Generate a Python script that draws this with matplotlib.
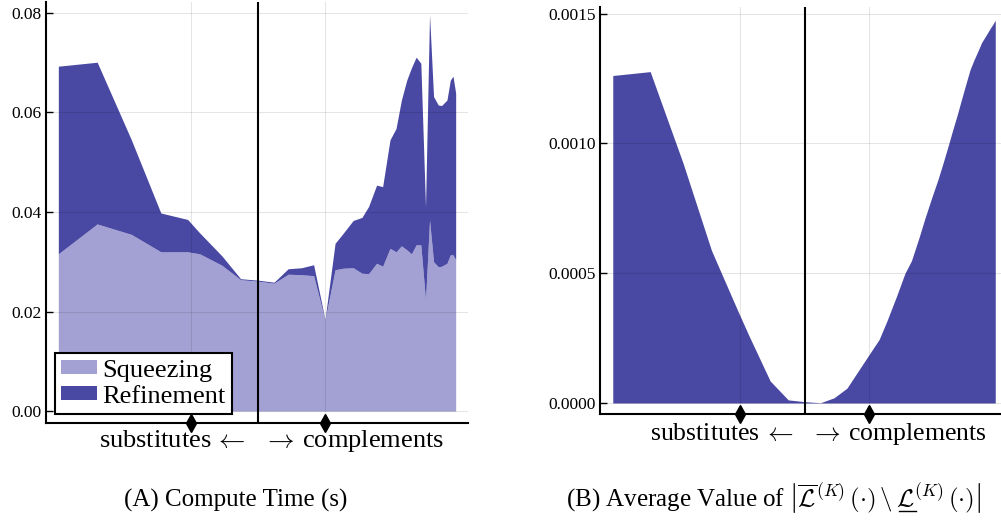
# -*- coding: utf-8 -*-
import matplotlib
matplotlib.use('Agg')
from matplotlib import pyplot as plt
from matplotlib.patches import Patch
import numpy as np

# x positions of the sampled points (same grid in both panels)
x = [-2.98, -2.40, -1.89, -1.45, -1.05, -0.87, -0.54, -0.26, 0.0, 0.24,
     0.45, 0.65, 0.83, 1.0, 1.15, 1.27, 1.42, 1.55, 1.65, 1.77,
     1.86, 1.97, 2.06, 2.14, 2.22, 2.29, 2.36, 2.43, 2.50, 2.56,
     2.62, 2.69, 2.74, 2.82, 2.87, 2.91, 2.95]

# panel A: compute time (s)
squeezing = [0.0316, 0.0376, 0.0355, 0.0320, 0.0320, 0.0316, 0.0293, 0.0264, 0.0261, 0.0257,
             0.0275, 0.0274, 0.0272, 0.0183, 0.0284, 0.0287, 0.0288, 0.0277, 0.0276, 0.0297,
             0.0291, 0.0327, 0.0320, 0.0332, 0.0324, 0.0316, 0.0334, 0.0334, 0.0223, 0.0384,
             0.0300, 0.0290, 0.0291, 0.0297, 0.0314, 0.0314, 0.0304]
refinement = [0.0377, 0.0325, 0.0190, 0.0078, 0.0065, 0.0042, 0.0019, 0.0002, 0.0002, 0.0002,
              0.0011, 0.0014, 0.0022, 0.0001, 0.0053, 0.0070, 0.0095, 0.0112, 0.0135, 0.0157,
              0.0160, 0.0218, 0.0248, 0.0293, 0.0341, 0.0374, 0.0377, 0.0365, 0.0187, 0.0413,
              0.0332, 0.0325, 0.0323, 0.0328, 0.0351, 0.0359, 0.0335]

# panel B: average value of the set difference
avg_value = [0.001262, 0.001277, 0.000924, 0.000588, 0.000360, 0.000260, 0.000085, 0.000012, 0.000005, 0.000001,
             0.000020, 0.000057, 0.000125, 0.000189, 0.000245, 0.000316, 0.000412, 0.000500, 0.000548, 0.000639,
             0.000712, 0.000795, 0.000860, 0.000924, 0.000991, 0.001052, 0.001110, 0.001173, 0.001234, 0.001285,
             0.001322, 0.001361, 0.001390, 0.001422, 0.001443, 0.001458, 0.001475]

yticks_a = [0.00, 0.02, 0.04, 0.06, 0.08]
yticks_b = [0.0000, 0.0005, 0.0010, 0.0015]
series_names = ['Squeezing', 'Refinement']

light = '#a3a1d3'
dark = '#4948a3'

plt.rcParams['font.family'] = ['Liberation Serif', 'DejaVu Serif']
plt.rcParams['mathtext.fontset'] = 'cm'

W, H = 1001, 527


def style_axes(ax, yticks, fmt):
    for s in ['top', 'right']:
        ax.spines[s].set_visible(False)
    for s in ['left', 'bottom']:
        ax.spines[s].set_linewidth(1.5)
    ax.set_yticks(yticks)
    ax.set_yticklabels([fmt % v for v in yticks])
    ax.set_xticks([-1, 1])
    ax.set_xticklabels(['', ''])
    ax.tick_params(axis='y', direction='in', length=5, width=1, labelsize=12.5, pad=3)
    ax.tick_params(axis='x', length=0)
    ax.grid(True, color='black', alpha=0.1, lw=0.8)
    ax.set_axisbelow(False)
    ax.axvline(0, color='black', lw=1.5, zorder=4)
    ax.plot([-1, 1], [0, 0], 'kd', ms=9, transform=ax.get_xaxis_transform(),
            clip_on=False, zorder=6)


fig = plt.figure(figsize=(W / 100, H / 100), dpi=100)

# panel A
ax1 = fig.add_axes([46 / W, 1 - 423 / H, 422 / W, 421 / H])
total = np.array(squeezing) + np.array(refinement)
ax1.fill_between(x, 0, squeezing, color=light, lw=0, zorder=2)
ax1.fill_between(x, squeezing, total, color=dark, lw=0, zorder=2)
ax1.set_xlim(-3.164, 3.134)
ax1.set_ylim(-0.0024, 0.0822)
style_axes(ax1, yticks_a, '%.2f')
handles = [Patch(facecolor=light, edgecolor='none'), Patch(facecolor=dark, edgecolor='none')]
leg = ax1.legend(handles, series_names, loc='lower left', bbox_to_anchor=(0.021, 0.021),
                 borderaxespad=0, fontsize=19, fancybox=False, framealpha=1,
                 edgecolor='black', handlelength=1.35, handleheight=0.45,
                 handletextpad=0.2, borderpad=0.25, labelspacing=0.15)
leg.get_frame().set_linewidth(1.5)
leg.set_zorder(10)

# panel B
ax2 = fig.add_axes([600 / W, 1 - 414 / H, 407 / W, 407 / H])
ax2.fill_between(x, 0, avg_value, color=dark, lw=0, zorder=2)
ax2.set_xlim(-3.178, 3.132)
ax2.set_ylim(-0.0000424, 0.001526)
style_axes(ax2, yticks_b, '%.4f')

xlab = r'substitutes$\,\leftarrow\;\;\rightarrow\,$complements'
fig.text(272 / W, 1 - 447 / H, xlab, ha='center', va='baseline', fontsize=19)
fig.text(818 / W, 1 - 440 / H, xlab, ha='center', va='baseline', fontsize=18.5)

fig.text(236 / W, 1 - 507 / H, '(A) Compute Time (s)', ha='center', va='baseline', fontsize=18)

# caption B: mathtext has no \underline, so the bar under the second L is drawn by hand
cap_b = (r'(B) Average Value of $\left|\overline{\mathcal{L}}^{(K)}\,(\cdot)\,\backslash\,'
         r'\mathcal{L}^{(K)}\,(\cdot)\right|$')
cap_pre = (r'(B) Average Value of $\left|\overline{\mathcal{L}}^{(K)}\,(\cdot)\,\backslash\,'
           r'\right.$')
txt_b = fig.text(774 / W, 1 - 507 / H, cap_b, ha='center', va='baseline', fontsize=18)
fig.canvas.draw()
r = fig.canvas.get_renderer()
bb_full = txt_b.get_window_extent(r)
t_pre = fig.text(0, 0, cap_pre, fontsize=18)
t_L = fig.text(0, 0, r'$\mathcal{L}$', fontsize=18)
w_pre = t_pre.get_window_extent(r).width
w_L = t_L.get_window_extent(r).width
t_pre.remove()
t_L.remove()
x0 = bb_full.x0 + w_pre + 6
y_line = (H - 507) - 4
fig.add_artist(plt.Line2D([x0 / W, (x0 + w_L - 2) / W], [y_line / H, y_line / H],
                          color='black', lw=1.0, transform=fig.transFigure))

fig.savefig('out.png', dpi=100)
